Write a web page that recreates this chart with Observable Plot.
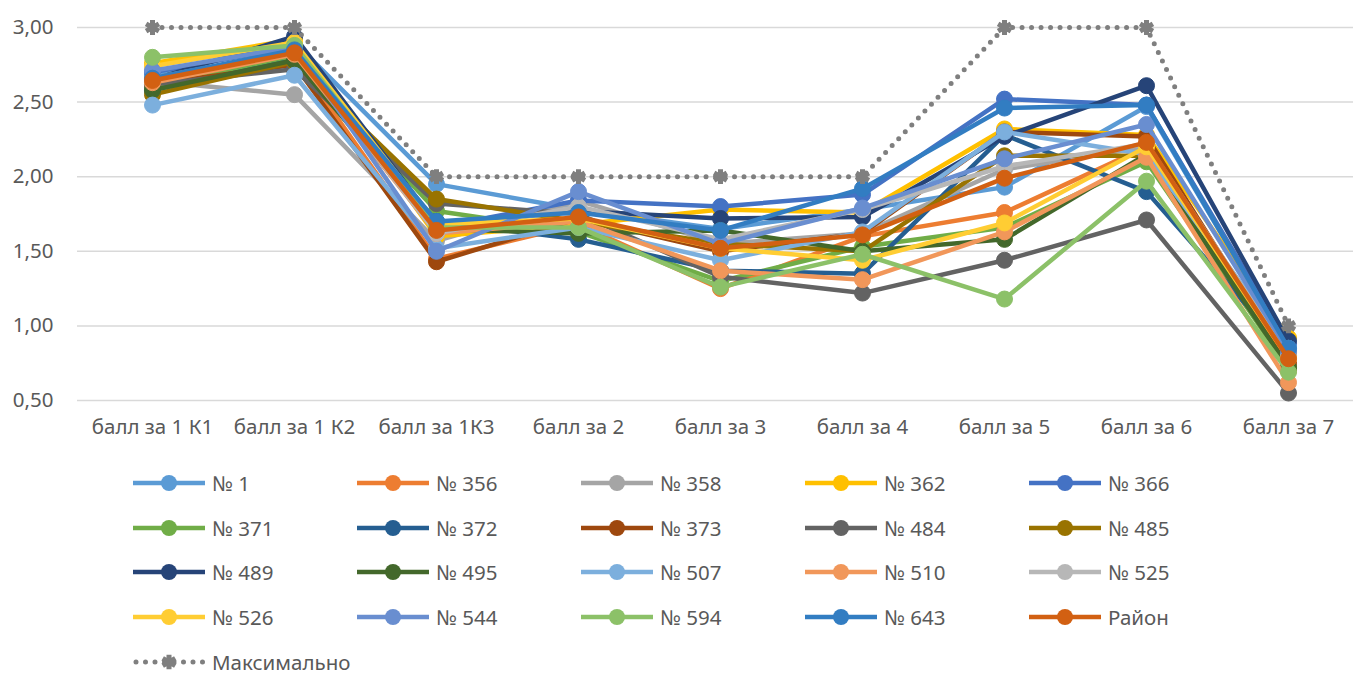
<!DOCTYPE html>
<html><head><meta charset="utf-8">
<script src="https://cdn.jsdelivr.net/npm/d3@7"></script>
<script src="https://cdn.jsdelivr.net/npm/@observablehq/plot@0.6"></script>
<style>
body{margin:0;background:#fff;font-family:"Noto Sans",sans-serif;}
#legend{width:1353px;padding-top:11px;display:flex;flex-wrap:wrap;padding-left:133px;box-sizing:border-box;}
.item{width:224px;height:44.6px;display:flex;align-items:center;color:#595959;font-size:20.5px;}
.item svg{margin-right:7px;}
</style></head><body>
<div id="chart"></div>
<div id="legend"></div>
<script>
const categories = ["балл за 1 К1","балл за 1 К2","балл за 1К3","балл за 2","балл за 3","балл за 4","балл за 5","балл за 6","балл за 7"];
const seriesNames = ["№ 1","№ 356","№ 358","№ 362","№ 366","№ 371","№ 372","№ 373","№ 484","№ 485","№ 489","№ 495","№ 507","№ 510","№ 525","№ 526","№ 544","№ 594","№ 643","Район"];
const s1   = [2.68,2.90,1.95,1.78,1.65,1.78,1.93,2.47,0.85];
const s356 = [2.62,2.80,1.45,1.68,1.25,1.60,1.76,2.20,0.70];
const s358 = [2.64,2.55,1.57,1.84,1.55,1.62,2.05,2.20,0.80];
const s362 = [2.76,2.92,1.60,1.68,1.78,1.76,2.32,2.28,0.92];
const s366 = [2.70,2.87,1.66,1.84,1.80,1.88,2.52,2.48,0.88];
const s371 = [2.60,2.80,1.77,1.63,1.30,1.53,1.66,2.10,0.72];
const s372 = [2.58,2.78,1.70,1.58,1.37,1.35,2.28,1.90,0.82];
const s373 = [2.62,2.75,1.43,1.72,1.50,1.62,2.30,2.27,0.75];
const s484 = [2.62,2.72,1.82,1.75,1.33,1.22,1.44,1.71,0.55];
const s485 = [2.55,2.77,1.85,1.70,1.55,1.50,2.14,2.14,0.80];
const s489 = [2.65,2.94,1.68,1.77,1.72,1.73,2.27,2.61,0.90];
const s495 = [2.58,2.78,1.65,1.62,1.64,1.50,1.58,2.15,0.72];
const s507 = [2.48,2.68,1.52,1.66,1.44,1.63,2.30,2.15,0.85];
const s510 = [2.63,2.82,1.62,1.70,1.37,1.31,1.63,2.13,0.62];
const s525 = [2.66,2.84,1.62,1.80,1.58,1.78,2.07,2.22,0.80];
const s526 = [2.74,2.90,1.68,1.72,1.52,1.44,1.69,2.20,0.78];
const s544 = [2.71,2.87,1.50,1.90,1.55,1.79,2.12,2.35,0.83];
const s594 = [2.80,2.88,1.66,1.66,1.26,1.48,1.18,1.97,0.69];
const s643 = [2.66,2.85,1.70,1.76,1.64,1.92,2.46,2.48,0.85];
const sRayon = [2.645,2.83,1.64,1.73,1.52,1.61,1.99,2.23,0.78];
const maxName = "Максимально";
const maxValues = [3,3,2,2,2,2,3,3,1];
const yTicks = [0.5,1,1.5,2,2.5,3];

const seriesValues = [s1,s356,s358,s362,s366,s371,s372,s373,s484,s485,s489,s495,s507,s510,s525,s526,s544,s594,s643,sRayon];
const colors = ["#5B9BD5","#ED7D31","#A5A5A5","#FFC000","#4472C4","#70AD47","#255E91","#9E480E","#636363","#997300","#264478","#43682B","#7CAFDD","#F1975A","#B7B7B7","#FFCD33","#698ED0","#8CC168","#327DC2","#D26012"];
const maxColor = "#7F7F7F";
const fmt = d => d3.format(".2f")(d).replace(".", ",");

const rowsOf = vals => vals.map((v,i)=>({cat:categories[i], v}));
const marks = [
  Plot.gridY(yTicks, {stroke:"#d9d9d9", strokeOpacity:1, strokeWidth:1.5}),
  Plot.axisY(yTicks, {tickSize:0, tickPadding:24, tickFormat:fmt, fontSize:20.5}),
  Plot.axisX({tickSize:0, tickPadding:19, fontSize:20.5})
];
seriesValues.forEach((vals, k) => {
  const rows = rowsOf(vals);
  marks.push(Plot.line(rows, {x:"cat", y:"v", stroke:colors[k], strokeWidth:4.5, strokeLinejoin:"round"}));
  marks.push(Plot.dot(rows, {x:"cat", y:"v", r:8, fill:colors[k], stroke:colors[k], strokeWidth:1}));
});
const maxRows = rowsOf(maxValues);
marks.push(Plot.line(maxRows, {x:"cat", y:"v", stroke:maxColor, strokeWidth:5, strokeDasharray:"0 9.5", strokeLinecap:"round"}));
marks.push(Plot.dot(maxRows, {x:"cat", y:"v", symbol:"asterisk", r:7, stroke:maxColor, strokeWidth:5, fill:maxColor}));

const chart = Plot.plot({
  width:1353, height:450,
  marginLeft:77, marginRight:0, marginTop:27, marginBottom:50,
  x:{type:"point", domain:categories, range:[148,1291], padding:0, label:null},
  y:{domain:[0.5,3], label:null},
  style:{fontFamily:"'Noto Sans', sans-serif", color:"#595959", background:"#fff"},
  marks
});
document.getElementById("chart").appendChild(chart);

const legend = document.getElementById("legend");
const ns = "http://www.w3.org/2000/svg";
function addItem(name, color, dotted){
  const div = document.createElement("div"); div.className="item";
  const svg = document.createElementNS(ns,"svg"); svg.setAttribute("width",72); svg.setAttribute("height",22);
  const ln = document.createElementNS(ns,"line");
  ln.setAttribute("x1",dotted?3:0); ln.setAttribute("x2",dotted?70:72); ln.setAttribute("y1",11); ln.setAttribute("y2",11);
  ln.setAttribute("stroke",color); ln.setAttribute("stroke-width",dotted?5:4.5);
  if(dotted){ln.setAttribute("stroke-dasharray","0 9.5"); ln.setAttribute("stroke-linecap","round");}
  svg.appendChild(ln);
  if(dotted){
    const p = document.createElementNS(ns,"path");
    p.setAttribute("d", d3.symbol(d3.symbolAsterisk, 150)());
    p.setAttribute("transform","translate(36,11)");
    p.setAttribute("stroke",color); p.setAttribute("stroke-width",5); p.setAttribute("fill",color);
    svg.appendChild(p);
  } else {
    const c = document.createElementNS(ns,"circle");
    c.setAttribute("cx",36); c.setAttribute("cy",11); c.setAttribute("r",8); c.setAttribute("fill",color);
    svg.appendChild(c);
  }
  div.appendChild(svg);
  const t = document.createElement("span"); t.textContent = name; div.appendChild(t);
  legend.appendChild(div);
}
seriesNames.forEach((n,k)=>addItem(n, colors[k], false));
addItem(maxName, maxColor, true);
</script>
</body></html>
